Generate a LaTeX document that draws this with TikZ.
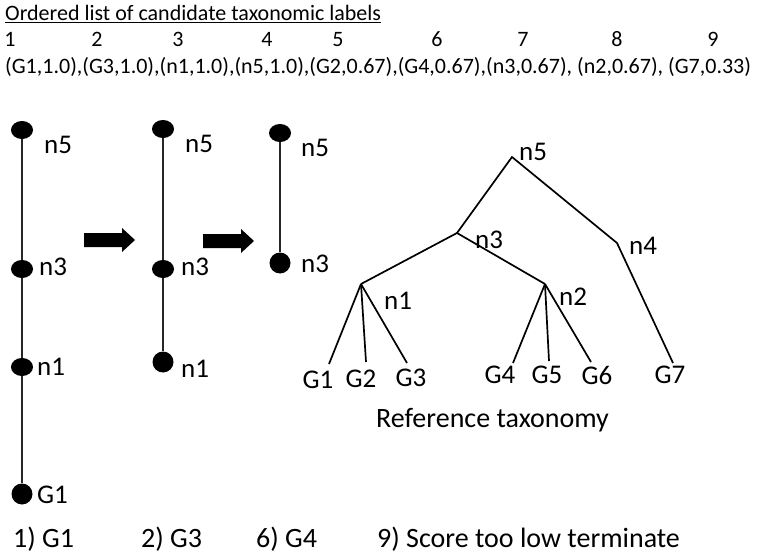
\documentclass[tikz,border=0pt]{standalone}
\usepackage{fontspec}
\setmainfont{Carlito}
\usepackage{tikz}
\tikzset{>=latex}

\tikzset{
  dot/.style={ellipse, fill=black, inner sep=0pt, minimum width=22pt, minimum height=18pt},
  enddot/.style={circle, fill=black, inner sep=0pt, minimum size=21pt},
  lbl/.style={inner sep=0pt, anchor=west, font=\fontsize{27}{32}\selectfont},
  leaf/.style={inner sep=0pt, font=\fontsize{27}{32}\selectfont},
  note/.style={inner sep=0pt, anchor=base west, font=\fontsize{28}{33}\selectfont},
  hdr/.style={inner sep=0pt, anchor=base west, font=\fontsize{22}{26}\selectfont},
  stem/.style={line width=2pt, black!85},
  branch/.style={line width=1.7pt, black}
}
\usetikzlibrary{shapes.geometric}

\begin{document}
\begin{tikzpicture}[x=1pt, y=-1pt]
\useasboundingbox (0,0) rectangle (760,556);

% candidate list
\node[hdr] (title) at (5,21) {\underline{Ordered list of candidate taxonomic labels}};
\foreach \x/\n in {10/1, 97/2, 178/3, 267/4, 338/5, 437/6, 523/7, 617/8, 713/9}{
    \node[hdr, anchor=base] (rank\n) at (\x,47) {\n};
}
\node[hdr] (list) at (5,74) {(G1,1.0),(G3,1.0),(n1,1.0),(n5,1.0),(G2,0.67),(G4,0.67),(n3,0.67), (n2,0.67), (G7,0.33)};

% chain after step 1
\node[dot] (a5) at (22,130) {};
\node[dot] (a3) at (22,269) {};
\node[dot] (a1) at (22,367) {};
\node[enddot] (ag) at (22,494) {};
\draw[stem] (a5) -- (a3) -- (a1) -- (ag);
\node[lbl] (la5) at (44,145) {n5};
\node[lbl] (la3) at (39,267) {n3};
\node[lbl] (la1) at (37,367) {n1};
\node[lbl] (lag) at (37,495) {G1};

% chain after step 2
\node[dot] (b5) at (163,129) {};
\node[dot] (b3) at (163,269) {};
\node[enddot] (b1) at (163,362) {};
\draw[stem] (b5) -- (b3) -- (b1);
\node[lbl] (lb5) at (185,144) {n5};
\node[lbl] (lb3) at (181,267) {n3};
\node[lbl] (lb1) at (181,369) {n1};

% chain after step 6
\node[dot] (c5) at (280,133) {};
\node[enddot] (c3) at (280,263) {};
\draw[stem] (c5) -- (c3);
\node[lbl] (lc5) at (301,148) {n5};
\node[lbl] (lc3) at (301,264) {n3};

% block arrows
\foreach \x/\y in {84/240, 203/241}{
    \fill[black] (\x,\y-7) -- (\x+38,\y-7) -- (\x+38,\y-12) -- (\x+51,\y) -- (\x+38,\y+12) -- (\x+38,\y+7) -- (\x,\y+7) -- cycle;
}

% reference taxonomy
\coordinate (t5) at (512,157);
\coordinate (t3) at (457,233);
\coordinate (t4) at (617,243);
\coordinate (t1) at (361,284);
\coordinate (t2) at (545,284);
\foreach \n/\x/\y in {1/329/364, 2/366/362, 3/407/363, 4/513/363, 5/549/361, 6/591/362, 7/673/363}{
    \coordinate (e\n) at (\x,\y);
}
\draw[branch] (t3) -- (t5) -- (t4) -- (e7);
\draw[branch] (t1) -- (t3) -- (t2);
\foreach \n in {1,2,3}{
    \draw[branch] (t1) -- (e\n);
}
\foreach \n in {4,5,6}{
    \draw[branch] (t2) -- (e\n);
}
\node[lbl] (tn5) at (519,152) {n5};
\node[lbl] (tn3) at (475,240) {n3};
\node[lbl] (tn4) at (629,246) {n4};
\node[lbl] (tn1) at (384,301) {n1};
\node[lbl] (tn2) at (559,297) {n2};
\foreach \n/\x/\y in {1/318/380, 2/361/379, 3/411/378, 4/500/375, 5/547/375, 6/597/375, 7/670/375}{
    \node[leaf] (g\n) at (\x,\y) {G\n};
}
\node[note] (caption) at (376,427) {Reference taxonomy};

% steps
\node[note] (s1) at (13,547) {1) G1};
\node[note] (s2) at (141,547) {2) G3};
\node[note] (s6) at (256,547) {6) G4};
\node[note] (s9) at (377,547) {9) Score too low terminate};

\end{tikzpicture}
\end{document}
